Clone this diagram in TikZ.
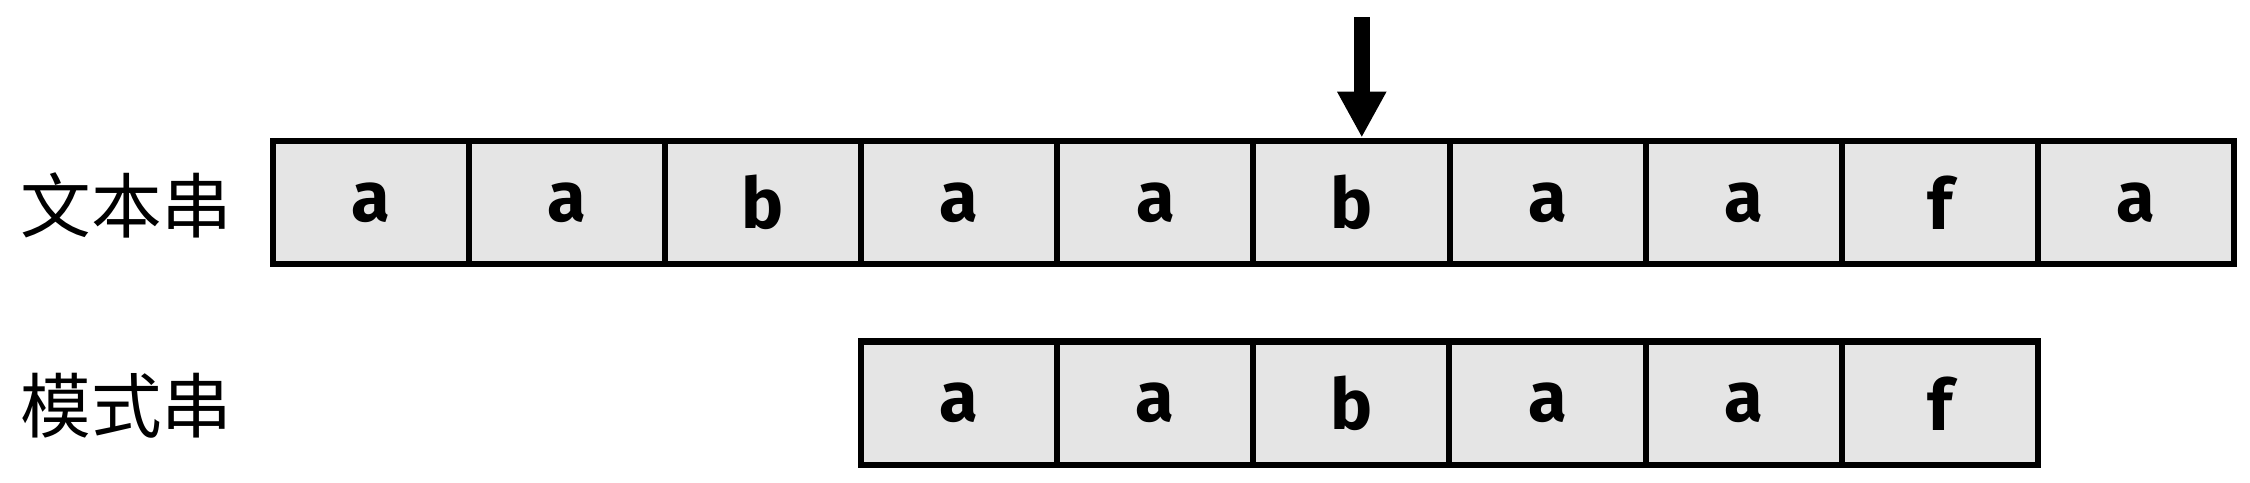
\documentclass[tikz,border=0pt]{standalone}
\usepackage{fontspec}
\setmainfont{Fira Sans}
\newfontfamily\cjk{Noto Sans CJK SC}
\usetikzlibrary{arrows.meta}
\usetikzlibrary{positioning}

\tikzset{
    cellbox/.style = {draw, line width = 1.2pt, fill = black!10,
                      minimum width = 1.367cm, minimum height = 0.86cm,
                      inner sep = 0pt, font = \fontsize{14}{16}\selectfont\bfseries},
    rowlabel/.style = {font = \cjk\fontsize{14}{16}\selectfont, anchor = west}
}

\begin{document}
\begin{tikzpicture}
        % Rahmen
        \useasboundingbox (0, 0) rectangle (15.68, -3.36);

        % Beschriftung links
        \node [rowlabel] (textlabel) at (0.02, -1.43) {文本串};
        \node [rowlabel] (patlabel) at (0.02, -2.83) {模式串};

        % Textzeile
        \foreach \ch [count = \i from 0] in {a, a, b, a, a, b, a, a, f, a}
            \node [cellbox] (t\i) at (1.90 + 0.6835 + \i * 1.367, -1.41) {\ch};

        % Musterzeile
        \foreach \ch [count = \i from 0] in {a, a, b, a, a, f}
            \node [cellbox] (p\i) at (6.00 + 0.6835 + \i * 1.367, -2.81) {\ch};

        % Pfeil
        \coordinate (arrowtop) at (9.49, -0.12);
        \draw [-{Triangle[width = 3.2mm, length = 3.2mm]}, line width = 1.1mm]
              (arrowtop) -- (arrowtop |- t5.north);
\end{tikzpicture}
\end{document}
